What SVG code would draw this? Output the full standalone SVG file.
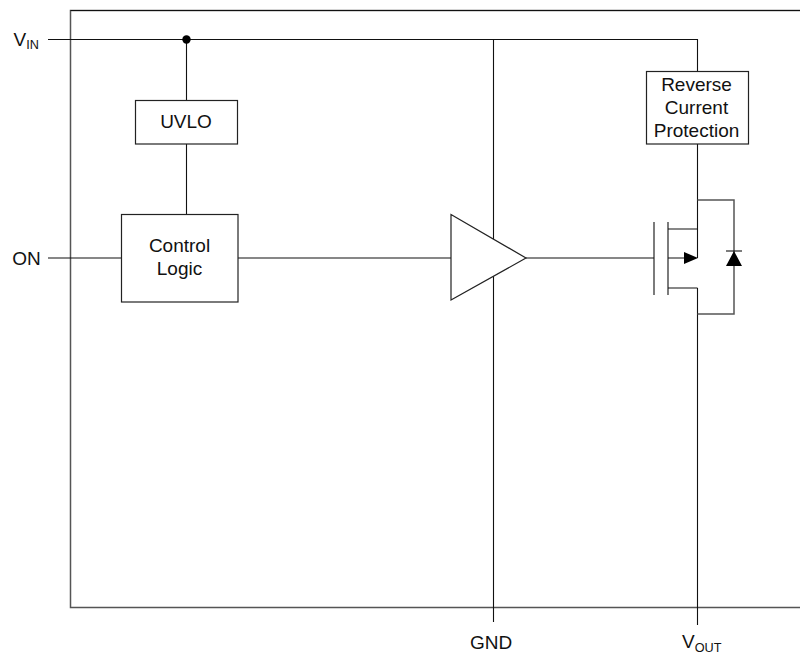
<svg xmlns="http://www.w3.org/2000/svg" width="800" height="654" viewBox="0 0 800 654">
<style>
.w{fill:none;stroke:#111;stroke-width:1.1}
.g{fill:none;stroke:#555;stroke-width:1.5}
.b{fill:#fff;stroke:#222;stroke-width:1.2}
.f{fill:#000;stroke:none}
text{font-family:"Liberation Sans",Arial,sans-serif;font-size:19px;fill:#111;text-anchor:middle}
.l{text-anchor:start}
.s{font-size:12.700px}
</style>
<rect width="800" height="654" fill="#fff"/>
<g id="connectors">
<path class="g" d="M800 10.500H70.500V607.500H800"/>
<path class="w" d="M800 10.500H70.500"/>
<path class="w" d="M48 39.500H697.500V71"/>
<path class="w" d="M186.500 39.500V100M186.500 144V214"/>
<path class="w" d="M48 258H121M238 258H451M526 258H654"/>
<path class="w" d="M493.500 39.500V622"/>
<path class="w" d="M697.500 144V258M697.500 288V625"/>
<path class="w" d="M668 229H697.500M668 258H686M668 288H697.500"/>
<path class="g" d="M697.500 200H734V314H697.500"/>
<circle class="f" cx="186.500" cy="39.500" r="4.200"/>
</g>
<g id="vin"><text class="l" x="13.500" y="46">V<tspan class="s" dy="2.500">IN</tspan></text></g>
<g id="on"><text x="26.500" y="265">ON</text></g>
<g id="gnd"><text x="491" y="649">GND</text></g>
<g id="vout"><text class="l" x="682" y="648">V<tspan class="s" dy="3.500">OUT</tspan></text></g>
<g id="uvlo"><rect class="b" x="135.500" y="100.500" width="102" height="43.500"/><text x="186" y="128">UVLO</text></g>
<g id="control-logic"><rect class="b" x="121.500" y="214.500" width="116.500" height="87.500"/><text x="179.500" y="252">Control</text><text x="179.500" y="275">Logic</text></g>
<g id="amplifier"><path class="b" d="M451 214.500L526 258L451 300Z"/></g>
<g id="reverse-current-protection"><rect class="b" x="646.500" y="71.500" width="102" height="72.500"/><text x="696.500" y="91">Reverse</text><text x="696.500" y="114">Current</text><text x="696.500" y="137">Protection</text></g>
<g id="mosfet">
<path class="w" d="M654 222V295M668 222V295"/>
<path class="f" d="M684 252L698 258L684 264Z"/>
</g>
<g id="diode">
<path class="f" d="M734 251L742 266H726Z"/>
<path class="w" d="M726 251H742"/>
</g>
</svg>
